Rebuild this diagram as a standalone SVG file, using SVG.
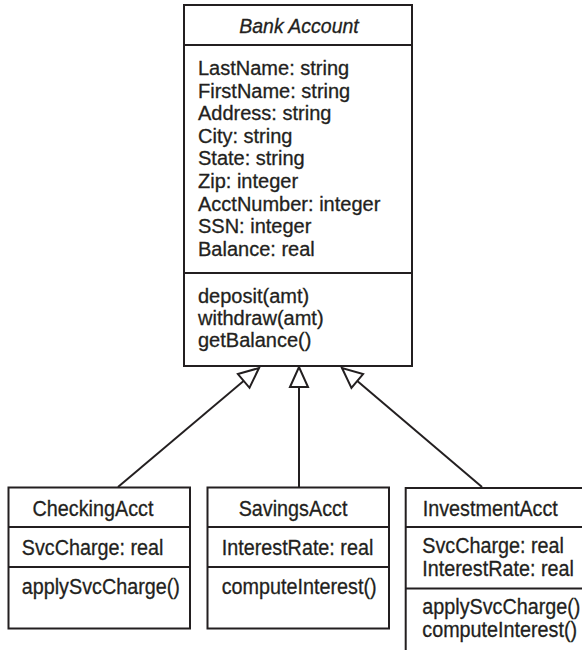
<svg xmlns="http://www.w3.org/2000/svg" width="582" height="650" viewBox="0 0 582 650">
<style>
.box{fill:#fff;stroke:#231f20;stroke-width:2}
.ln{stroke:#231f20;stroke-width:2;fill:none}
text{font-family:"Liberation Sans",Arial,sans-serif;font-size:20px;fill:#231f20;stroke:#231f20;stroke-width:0.3}
.sm text{font-size:21.5px}
.it{font-style:italic;font-size:19.5px}
.mid{text-anchor:middle}
</style>
<defs>
<marker id="tri" viewBox="0 0 24 24" refX="22" refY="12" markerWidth="24" markerHeight="24" markerUnits="userSpaceOnUse" orient="auto">
<path d="M2,3 L22,12 L2,21 Z" fill="#fff" stroke="#231f20" stroke-width="2" stroke-linejoin="miter"/>
</marker>
</defs>
<g id="bank">
<rect class="box" x="184" y="5" width="228" height="361"/>
<line class="ln" x1="184" y1="45" x2="412" y2="45"/>
<line class="ln" x1="184" y1="273" x2="412" y2="273"/>
<text class="it mid" x="299" y="33">Bank Account</text>
<text x="198" y="75">LastName: string</text>
<text x="198" y="97.6">FirstName: string</text>
<text x="198" y="120.2">Address: string</text>
<text x="198" y="142.8">City: string</text>
<text x="198" y="165.4">State: string</text>
<text x="198" y="188">Zip: integer</text>
<text x="198" y="210.6">AcctNumber: integer</text>
<text x="198" y="233.2">SSN: integer</text>
<text x="198" y="255.8">Balance: real</text>
<text x="198" y="302.7">deposit(amt)</text>
<text x="198" y="325">withdraw(amt)</text>
<text x="198" y="347">getBalance()</text>
</g>
<g id="checking">
<rect class="box" x="8.5" y="487.5" width="181.5" height="141"/>
<line class="ln" x1="8.5" y1="527" x2="190" y2="527"/>
<line class="ln" x1="8.5" y1="567" x2="190" y2="567"/>
<g class="sm" transform="scale(0.92,1)">
<text class="mid" x="101.1" y="515.7">CheckingAcct</text>
<text x="23.6" y="555">SvcCharge: real</text>
<text x="23.6" y="594">applySvcCharge()</text>
</g>
</g>
<g id="savings">
<rect class="box" x="207.5" y="487.5" width="181.5" height="141"/>
<line class="ln" x1="207.5" y1="527" x2="389" y2="527"/>
<line class="ln" x1="207.5" y1="567" x2="389" y2="567"/>
<g class="sm" transform="scale(0.92,1)">
<text class="mid" x="318.5" y="515.7">SavingsAcct</text>
<text x="241" y="555">InterestRate: real</text>
<text x="241" y="594">computeInterest()</text>
</g>
</g>
<g id="investment">
<path class="ln" d="M584,488 L405.7,488 L405.7,652"/>
<line class="ln" x1="405.7" y1="527" x2="584" y2="527"/>
<line class="ln" x1="405.7" y1="588.5" x2="584" y2="588.5"/>
<g class="sm" transform="scale(0.92,1)">
<text x="459.5" y="515.7">InvestmentAcct</text>
<text x="459" y="552.7">SvcCharge: real</text>
<text x="459" y="576">InterestRate: real</text>
<text x="459" y="614">applySvcCharge()</text>
<text x="459" y="636.7">computeInterest()</text>
</g>
</g>
<g id="connectors">
<line class="ln" x1="118" y1="487" x2="259" y2="368" marker-end="url(#tri)"/>
<line class="ln" x1="299" y1="487" x2="299" y2="367" marker-end="url(#tri)"/>
<line class="ln" x1="482" y1="487" x2="342" y2="368" marker-end="url(#tri)"/>
</g>
</svg>
